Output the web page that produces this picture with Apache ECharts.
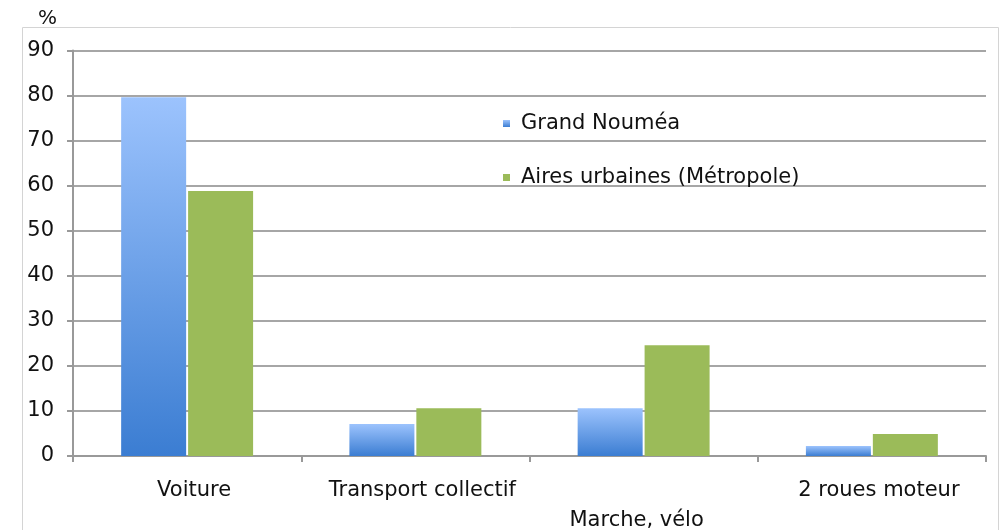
<!DOCTYPE html>
<html>
<head>
<meta charset="utf-8">
<script src="https://cdn.jsdelivr.net/npm/echarts@6/dist/echarts.min.js"></script>
<style>
  html, body { margin: 0; padding: 0; background: #fff; }
  #chart { width: 1004px; height: 530px; }
</style>
</head>
<body>
<div id="chart"></div>
<script>
const categories = ['Voiture', 'Transport collectif', 'Marche, vélo', '2 roues moteur'];
const grandNoumea = [79.6, 7.1, 10.6, 2.2];
const airesUrbaines = [58.8, 10.6, 24.6, 4.9];
const seriesNames = ['Grand Nouméa', 'Aires urbaines (Métropole)'];

const FONT = 'DejaVu Sans';

const chart = echarts.init(document.getElementById('chart'));

const blueGradient = new echarts.graphic.LinearGradient(0, 0, 0, 1, [
  { offset: 0, color: '#9cc3fd' },
  { offset: 1, color: '#3b7dd2' },
]);

chart.setOption({
  animation: false,
  graphic: [{
    type: 'rect',
    shape: { x: 22.5, y: 27.5, width: 976, height: 520 },
    style: { fill: 'none', stroke: '#d4d4d4', lineWidth: 1 },
    silent: true,
  }],
  legend: {
    orient: 'vertical',
    left: 503,
    top: 113,
    padding: 0,
    itemWidth: 7,
    itemHeight: 7,
    itemGap: 33,
    icon: 'rect',
    textStyle: { fontFamily: FONT, fontSize: 21, color: '#111', padding: [0, 0, 0, 6] },
    data: seriesNames,
  },
  grid: { left: 73, right: 18, top: 50.5, bottom: 74, outerBoundsMode: 'none' },
  xAxis: {
    type: 'category',
    data: categories,
    axisLine: { lineStyle: { color: '#999', width: 2 } },
    axisTick: { show: true, length: 6, lineStyle: { color: '#999', width: 2 } },
    axisLabel: {
      interval: 0,
      margin: 20,
      fontFamily: FONT,
      fontSize: 21,
      color: '#111',
      lineHeight: 30,
      formatter: (v, i) => (i === 2 ? '\n{l|' + v + '}' : '{r|' + v + '}'),
      rich: {
        r: { fontFamily: FONT, fontSize: 21, color: '#111', padding: [0, 0, 0, 14] },
        l: { fontFamily: FONT, fontSize: 21, color: '#111', padding: [0, 14, 0, 0] },
      },
    },
  },
  yAxis: {
    type: 'value',
    min: 0,
    max: 90,
    interval: 10,
    name: '%',
    nameLocation: 'end',
    nameGap: 22,
    nameTextStyle: { fontFamily: FONT, fontSize: 20, color: '#111', align: 'right', padding: [0, 16, 0, 0] },
    axisLine: { show: true, lineStyle: { color: '#999', width: 2 } },
    axisTick: { show: true, length: 6, lineStyle: { color: '#999', width: 2 } },
    axisLabel: { fontFamily: FONT, fontSize: 21, color: '#111', margin: 19 },
    splitLine: { lineStyle: { color: '#a6a6a6', width: 2 } },
  },
  series: [
    {
      name: seriesNames[0],
      type: 'bar',
      data: grandNoumea,
      barWidth: 65,
      barGap: '3%',
      itemStyle: { color: blueGradient },
    },
    {
      name: seriesNames[1],
      type: 'bar',
      data: airesUrbaines,
      barWidth: 65,
      itemStyle: { color: '#9bbb59' },
    },
  ],
});
</script>
</body>
</html>
